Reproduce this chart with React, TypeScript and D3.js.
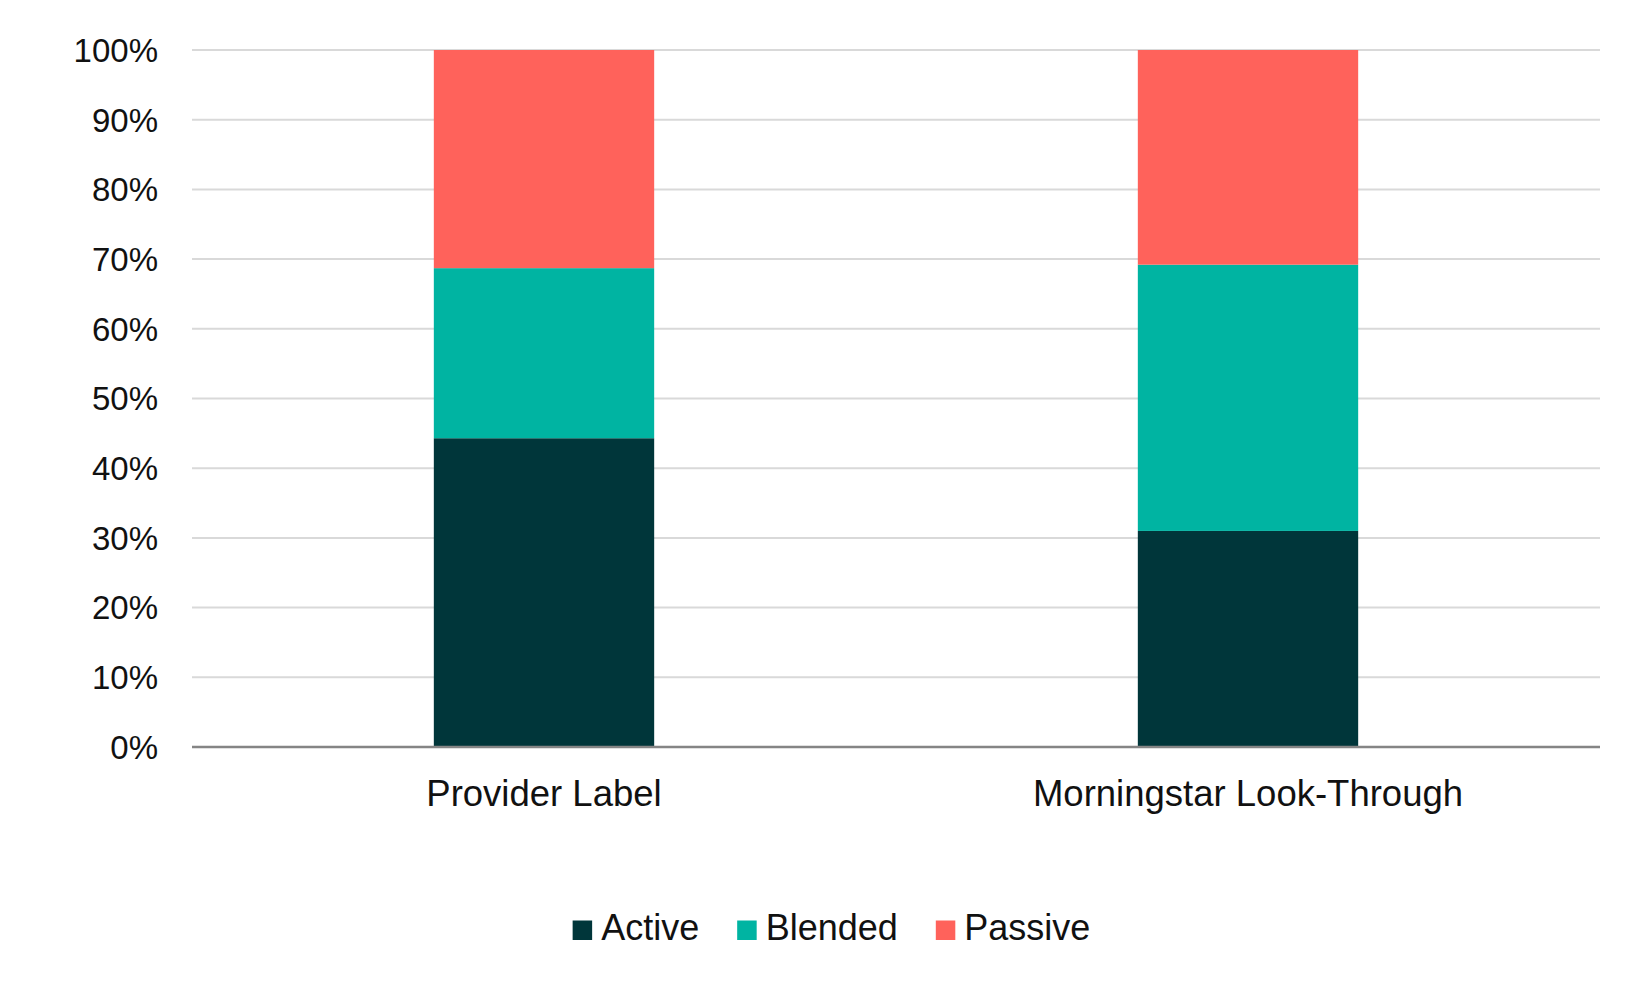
import * as d3 from "d3";
import { useEffect, useRef } from "react";

const WIDTH = 1650;
const HEIGHT = 990;
const MARGIN = { top: 50, right: 50, bottom: 243, left: 192 };

const categories = ["Provider Label", "Morningstar Look-Through"];
const seriesNames = ["Active", "Blended", "Passive"];
const activeValues = [44.3, 31.0];
const blendedValues = [24.4, 38.2];
const passiveValues = [31.3, 30.8];
const yTicks = [0, 10, 20, 30, 40, 50, 60, 70, 80, 90, 100];
const colors = ["#00363a", "#00b4a2", "#ff625b"];

const FONT = "'Liberation Sans', Arial, sans-serif";

function App() {
  const ref = useRef<SVGSVGElement>(null);

  useEffect(() => {
    const svg = d3.select(ref.current);
    svg.selectAll("*").remove();

    const boundsWidth = WIDTH - MARGIN.left - MARGIN.right;
    const boundsHeight = HEIGHT - MARGIN.top - MARGIN.bottom;

    const rows = categories.map((c, i) => ({
      category: c,
      Active: activeValues[i],
      Blended: blendedValues[i],
      Passive: passiveValues[i],
    }));

    const stacked = d3.stack<any>().keys(seriesNames)(rows);

    const xScale = d3
      .scaleBand()
      .domain(categories)
      .range([0, boundsWidth])
      .paddingInner(0.687)
      .paddingOuter(0.3435);

    const yScale = d3.scaleLinear().domain([0, 100]).range([boundsHeight, 0]);

    const g = svg
      .append("g")
      .attr("transform", `translate(${MARGIN.left},${MARGIN.top})`);

    // gridlines
    g.selectAll(".grid")
      .data(yTicks.filter((t) => t > 0))
      .join("line")
      .attr("x1", 0)
      .attr("x2", boundsWidth)
      .attr("y1", (d) => yScale(d))
      .attr("y2", (d) => yScale(d))
      .attr("stroke", "#d9d9d9")
      .attr("stroke-width", 2);

    // bars
    stacked.forEach((layer, si) => {
      g.append("g")
        .selectAll("rect")
        .data(layer)
        .join("rect")
        .attr("x", (d) => xScale(d.data.category) ?? 0)
        .attr("width", xScale.bandwidth())
        .attr("y", (d) => yScale(d[1]))
        .attr("height", (d) => yScale(d[0]) - yScale(d[1]))
        .attr("fill", colors[si]);
    });

    // baseline
    g.append("line")
      .attr("x1", 0)
      .attr("x2", boundsWidth)
      .attr("y1", yScale(0))
      .attr("y2", yScale(0))
      .attr("stroke", "#858585")
      .attr("stroke-width", 2.5);

    // y labels
    g.selectAll(".ylab")
      .data(yTicks)
      .join("text")
      .attr("x", -34)
      .attr("y", (d) => yScale(d))
      .attr("dy", "0.36em")
      .attr("text-anchor", "end")
      .attr("font-family", FONT)
      .attr("font-size", 33)
      .attr("fill", "#111")
      .text((d) => `${d}%`);

    // x labels
    g.selectAll(".xlab")
      .data(categories)
      .join("text")
      .attr("x", (d) => (xScale(d) ?? 0) + xScale.bandwidth() / 2)
      .attr("y", boundsHeight + 59)
      .attr("text-anchor", "middle")
      .attr("font-family", FONT)
      .attr("font-size", 36.5)
      .attr("fill", "#111")
      .text((d) => d);

    // legend
    const legend = svg.append("g");
    const SW = 19.5;
    const GAP = 9;
    const ITEM_GAP = 38;
    let cursor = 0;
    seriesNames.forEach((name, i) => {
      const item = legend.append("g").attr("transform", `translate(${cursor},0)`);
      item
        .append("rect")
        .attr("x", 0)
        .attr("y", -SW)
        .attr("width", SW)
        .attr("height", SW)
        .attr("fill", colors[i]);
      const t = item
        .append("text")
        .attr("x", SW + GAP)
        .attr("y", 0)
        .attr("font-family", FONT)
        .attr("font-size", 36)
        .attr("fill", "#111")
        .text(name);
      const w = (t.node() as SVGTextElement).getComputedTextLength();
      cursor += SW + GAP + w + ITEM_GAP;
    });
    const total = cursor - ITEM_GAP;
    legend.attr("transform", `translate(${831.5 - total / 2},${940})`);
  }, []);

  return (
    <svg
      ref={ref}
      width={WIDTH}
      height={HEIGHT}
      style={{ position: "absolute", left: 0, top: 0, background: "#fff" }}
    />
  );
}

export default App;
